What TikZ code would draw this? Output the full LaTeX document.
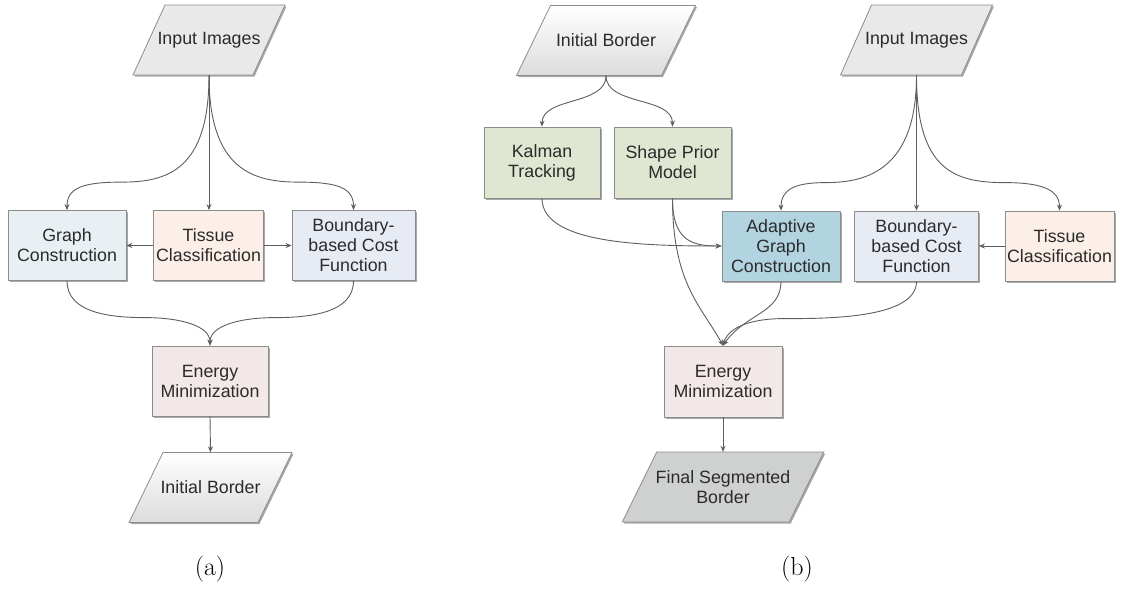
\documentclass[tikz,border=0pt]{standalone}
\usepackage{fontspec}
\newfontfamily\arialf{Liberation Sans}
\usetikzlibrary{shadows,calc,arrows.meta}
\definecolor{bordercol}{HTML}{8C8C8C}
\definecolor{shadowcol}{HTML}{A8A8A8}
\definecolor{textcol}{HTML}{2B2B2B}
\definecolor{arrowcol}{HTML}{5E5E5E}
\definecolor{gcfill}{HTML}{E8F0F3}
\definecolor{tcfill}{HTML}{FCEFE8}
\definecolor{bcfill}{HTML}{E7ECF4}
\definecolor{emfill}{HTML}{F3E8E8}
\definecolor{ktfill}{HTML}{DFE6D1}
\definecolor{agfill}{HTML}{B1D4E0}
\definecolor{fsfill}{HTML}{CFD1D0}
\definecolor{iifill}{HTML}{E9E9E9}
\definecolor{ibbot}{HTML}{DCDCDC}
\newcommand\paranode[7]{%
  \fill[shadowcol] ({#2-#4/2+#5/2+1.5},{#3-35+1.5}) -- ++(#4,0) -- ++({-#5},70) -- ++({-#4},0) -- cycle;
  \path[draw=bordercol, line width=0.8pt, #6] ({#2-#4/2+#5/2},{#3-35}) -- ++(#4,0) -- ++({-#5},70) -- ++({-#4},0) -- cycle;
  \node[txt, minimum height=70pt, inner sep=0pt] (#1) at (#2,#3) {#7};
}
\tikzset{
  txt/.style={align=center, text=textcol, font=\arialf\fontsize{17.8}{20}\selectfont},
  box/.style={txt, draw=bordercol, line width=0.8pt, minimum height=70pt, inner sep=0pt,
    drop shadow={shadow xshift=1.5pt, shadow yshift=-1.5pt, fill=shadowcol, opacity=1}},
  arr/.style={draw=arrowcol, line width=0.9pt, -{Stealth[length=6pt,width=5pt]}},
  captxt/.style={font=\fontsize{26}{30}\selectfont}
}
\begin{document}
\begin{tikzpicture}[x=1pt,y=-1pt]
\useasboundingbox (0,0) rectangle (1121,590);
% ---------- panel (a) ----------
\paranode{iiA}{209}{40}{120}{32}{fill=iifill}{Input Images}
\node[box, fill=gcfill, minimum width=118pt] (gcA) at (67,245.5) {Graph\\Construction};
\node[box, fill=tcfill, minimum width=110pt] (tcA) at (208.5,245.5) {Tissue\\Classification};
\node[box, fill=bcfill, minimum width=123pt] (bcA) at (353.5,245.5) {Boundary-\\based Cost\\Function};
\node[box, fill=emfill, minimum width=116pt] (emA) at (210,381) {Energy\\Minimization};
\paranode{ibA}{210.5}{487.5}{129}{34}{top color=white, bottom color=ibbot}{Initial Border}
\node[captxt] (capA) at (210,569) {(a)};

\draw[arr] (iiA.south) -- (iiA.south |- tcA.north);
\draw[arr] (iiA.south) .. controls +(0,95) and +(45,0) .. ($(gcA.north)+(55,-28)$)
  .. controls +(-40,0) and +(0,-22) .. (gcA.north);
\draw[arr] (iiA.south) .. controls +(0,95) and +(-45,0) .. ($(bcA.north)+(-55,-28)$)
  .. controls +(40,0) and +(0,-22) .. (bcA.north);
\draw[arr] (tcA.west) -- (gcA.east);
\draw[arr] (tcA.east) -- (bcA.west);
\draw[arr] (gcA.south) .. controls +(0,32) and +(-35,0) .. ($(emA.north)+(-65,-28)$)
  .. controls +(35,0) and +(0,-20) .. (emA.north);
\draw[arr] (bcA.south) .. controls +(0,32) and +(35,0) .. ($(emA.north)+(65,-28)$)
  .. controls +(-35,0) and +(0,-20) .. (emA.north);
\draw[arr] (emA.south) -- (ibA.north);

% ---------- panel (b) ----------
\paranode{ibB}{606}{40.5}{145}{34}{top color=white, bottom color=ibbot}{Initial Border}
\paranode{iiB}{916.5}{40}{121}{31}{fill=iifill}{Input Images}
\node[box, fill=ktfill, minimum width=116pt, minimum height=71pt] (kt) at (542,162.5) {Kalman\\Tracking};
\node[box, fill=ktfill, minimum width=117pt, minimum height=71pt] (sp) at (672.5,162.5) {Shape Prior\\Model};
\node[box, fill=agfill, minimum width=118pt] (ag) at (781,246) {Adaptive\\Graph\\Construction};
\node[box, fill=bcfill, minimum width=124pt] (bcB) at (916.5,246) {Boundary-\\based Cost\\Function};
\node[box, fill=tcfill, minimum width=109pt] (tcB) at (1059.5,246) {Tissue\\Classification};
\node[box, fill=emfill, minimum width=118pt, minimum height=71pt] (emB) at (723,381.5) {Energy\\Minimization};
\paranode{fs}{723}{487}{167}{34.5}{fill=fsfill}{Final Segmented\\Border}
\node[captxt] (capB) at (797,569) {(b)};

\draw[arr] (ibB.south) .. controls +(0,30) and +(0,-30) .. (kt.north);
\draw[arr] (ibB.south) .. controls +(0,30) and +(0,-30) .. (sp.north);
\draw[arr] (kt.south) .. controls +(0,45) and +(-80,0) .. (ag.west);
\draw[arr] (sp.south) .. controls +(0,42) and +(-30,0) .. (ag.west);
\draw[arr] (sp.south) .. controls +(0,85) and +(-22,-40) .. (emB.north);
\draw[arr] (ag.south) .. controls +(0,32) and +(22,-32) .. (emB.north);
\draw[arr] (bcB.south) .. controls +(0,38) and +(40,0) .. ($(emB.north)+(60,-27)$)
  .. controls +(-28,0) and +(6,-20) .. (emB.north);
\draw[arr] (iiB.south) -- (iiB.south |- bcB.north);
\draw[arr] (iiB.south) .. controls +(0,95) and +(40,0) .. ($(ag.north)+(45,-28)$)
  .. controls +(-30,0) and +(0,-22) .. (ag.north);
\draw[arr] (iiB.south) .. controls +(0,95) and +(-50,0) .. ($(tcB.north)+(-55,-28)$)
  .. controls +(35,0) and +(0,-22) .. (tcB.north);
\draw[arr] (tcB.west) -- (bcB.east);
\draw[arr] (emB.south) -- (fs.north);
\end{tikzpicture}
\end{document}
